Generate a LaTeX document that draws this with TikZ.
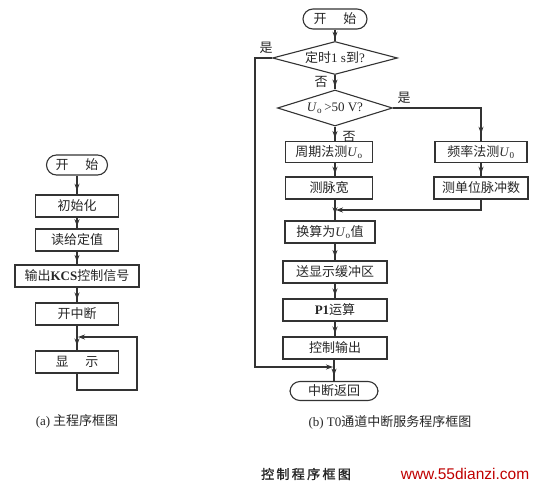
\documentclass[tikz,border=0pt]{standalone}
\usepackage{fontspec}
\setmainfont{Liberation Serif}
\setsansfont{Liberation Sans}
\newfontfamily\cjk{Noto Sans CJK SC}
\newfontfamily\cjktitre[LetterSpace=18,FakeBold=1.5]{Noto Sans CJK SC}
\usetikzlibrary{shapes.geometric,arrows.meta,decorations.markings}

\newcommand\lat[1]{{\rmfamily #1}}
\newcommand\Uo{\lat{\textit{U}\textsubscript{o}}}
\newcommand\Uz{\lat{\textit{U}\textsubscript{0}}}

\tikzset{
  trait/.style={line width=1.1pt, draw=black!80},
  boite/.style={trait, rectangle, minimum height=22pt, inner sep=1pt,
    font=\cjk\fontsize{13}{15}\selectfont, text=black!85},
  debut/.style={boite, rounded corners=10pt, minimum height=20pt},
  test/.style={boite, diamond, aspect=3.5, inner sep=0pt},
  fleche/.style={trait, -{Stealth[length=7pt,width=5pt]}},
  pas/.style={trait, decoration={markings,
    mark=at position #1 with {\arrow{Stealth[length=7pt,width=5pt]}}},
    postaction={decorate}},
  pas/.default=0.8,
  etiq/.style={font=\cjk\fontsize{13}{15}\selectfont, text=black!85, inner sep=0pt},
}

\begin{document}
\begin{tikzpicture}[x=1pt,y=-1pt]
    \useasboundingbox (0,0) rectangle (534,489);

    % (a) Programme principal
    \node[debut, minimum width=61pt] (debA) at (77,165) {开\hspace{1.3em}始};
    \node[boite, minimum width=83pt] (init) at (77,206) {初始化};
    \node[boite, minimum width=83pt] (lire) at (77,240) {读给定值};
    \node[boite, minimum width=124pt] (kcs) at (77,276) {输出\lat{\bfseries KCS}控制信号};
    \node[boite, minimum width=83pt] (ouvr) at (77,314) {开中断};
    \node[boite, minimum width=83pt] (aff) at (77,362) {显\hspace{1.3em}示};

    \draw[pas] (debA) -- (init);
    \draw[pas] (init) -- (lire);
    \draw[pas] (lire) -- (kcs);
    \draw[pas] (kcs) -- (ouvr);
    \draw[pas] (ouvr) -- (aff);

    % Boucle d'affichage
    \coordinate (retour) at (77,337);
    \coordinate (boucle) at (137,390);
    \draw[fleche, shorten >=1pt] (aff.south) |- (boucle) |- (retour);

    % (b) Interruption T0
    \node[debut, minimum width=64pt] (debB) at (335,19) {开\hspace{1.3em}始};
    \node[test, minimum width=125pt, minimum height=33pt] (tempo) at (335,58) {定时\lat{1 s}到\lat{?}};
    \node[test, minimum width=115pt, minimum height=36pt] (seuil) at (335,108) {\Uo\lat{\,>50 V?}};
    \node[boite, minimum width=87pt, minimum height=21pt] (per) at (329,152) {周期法测\Uo};
    \node[boite, minimum width=87pt] (lrg) at (329,188) {测脉宽};
    \node[boite, minimum width=92pt, minimum height=21pt] (freq) at (481,152) {频率法测\Uz};
    \node[boite, minimum width=94pt] (nimp) at (481,188) {测单位脉冲数};
    \node[boite, minimum width=90pt] (conv) at (330,232) {换算为\Uo 值};
    \node[boite, minimum width=104pt] (envoi) at (335,272) {送显示缓冲区};
    \node[boite, minimum width=104pt] (pi) at (335,310) {\lat{\bfseries P1}运算};
    \node[boite, minimum width=104pt] (ctrl) at (335,348) {控制输出};
    \node[debut, minimum width=88pt, minimum height=19pt] (ret) at (334,391) {中断返回};

    % Liaisons
    \draw[pas] (debB) -- (tempo);
    \draw[pas] (tempo) -- (seuil);
    \draw[pas] (seuil.south) -- (per.north -| seuil.south);
    \draw[pas] (per.south -| debB) -- (lrg.north -| debB);
    \draw[pas=0.7] (lrg.south -| debB) -- (conv.north -| debB);
    \draw[pas=0.94] (seuil.east) -| (freq.north);
    \draw[pas] (freq) -- (nimp);

    \coordinate (fusion) at (335,210);
    \draw[fleche, shorten >=1pt] (nimp.south) |- (fusion);

    \draw[pas] (conv.south -| debB) -- (envoi);
    \draw[pas] (envoi) -- (pi);
    \draw[pas] (pi) -- (ctrl);
    \draw[pas=0.75] (ctrl.south -| ret) -- (ret);

    % Branche "oui" du test de temps
    \coordinate (cote) at (255,367);
    \coordinate (jonction) at (334,367);
    \draw[fleche, shorten >=1pt] (tempo.west) -| (cote) -- (jonction);

    % Etiquettes
    \node[etiq] (oui1) at (266,48) {是};
    \node[etiq] (non1) at (321,82) {否};
    \node[etiq] (oui2) at (404,98) {是};
    \node[etiq] (non2) at (349,137) {否};

    % Legendes
    \node[etiq] (legA) at (77,421) {\lat{(a)} 主程序框图};
    \node[etiq] (legB) at (390,422) {\lat{(b) T0}通道中断服务程序框图};
    \node[font=\cjktitre\fontsize{13}{15}\selectfont, text=black!85, inner sep=0pt] (titre) at (306,474) {控制程序框图};
    \node[font=\sffamily\fontsize{15.5}{17}\selectfont, text=red!75!black, inner sep=0pt] (site) at (465,474) {www.55dianzi.com};
\end{tikzpicture}
\end{document}
